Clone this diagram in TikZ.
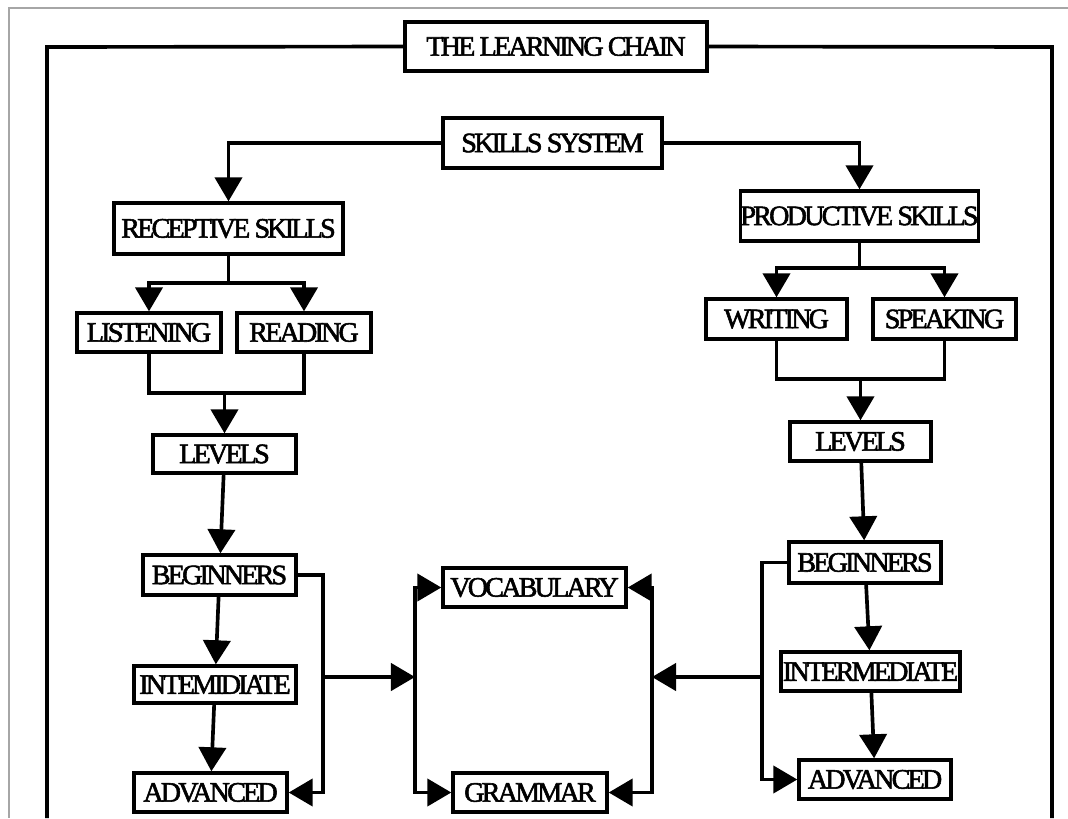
\documentclass[tikz,border=0pt]{standalone}
\usepackage{fontspec}
\setmainfont{Liberation Serif}[LetterSpace=-10,FakeBold=2]
\usetikzlibrary{arrows.meta}

\begin{document}
\begin{tikzpicture}[x=0.025cm,y=-0.025cm,
  box/.style={draw,line width=2.4pt,inner sep=0pt,font=\fontsize{20}{22}\selectfont},
  wire/.style={line width=2.6pt},
  arr/.style={wire,-{Triangle[width=0.68cm,length=0.6cm]}}]
  \useasboundingbox(0,0)rectangle(1068,818);
  \fill[white](0,0)rectangle(1068,818);
  \draw[gray!70,line width=0.8pt](1068,8)--(9,8)--(9,818);
  \node[box,minimum width=7.55cm,minimum height=1.225cm](title) at (556,46.5){THE LEARNING CHAIN};
  \draw[wire](title.west)--(47,47)--(47,818);
  \draw[wire](title.east)--(1052,47)--(1052,818);
  \node[box,minimum width=5.475cm,minimum height=1.25cm](skills) at (552.5,143){SKILLS SYSTEM};
  \node[box,minimum width=5.725cm,minimum height=1.275cm](recept) at (228.5,228.5){RECEPTIVE SKILLS};
  \node[box,minimum width=5.875cm,minimum height=1.25cm](product) at (859.5,216){PRODUCTIVE SKILLS};
  \draw[arr](skills.west)-|(recept.north);
  \draw[arr](skills.east)-|(product.north);
  \begin{scope}
    \node[box,minimum width=3.6cm,minimum height=0.975cm](listen) at (149,332.5){LISTENING};
    \node[box,minimum width=3.35cm,minimum height=0.975cm](read) at (304,332.5){READING};
    \node[box,minimum width=3.575cm,minimum height=0.95cm](levelsL) at (224.5,454){LEVELS};
    \node[box,minimum width=3.825cm,minimum height=1cm](begL) at (219.5,575){BEGINNERS};
    \node[box,minimum width=4.05cm,minimum height=0.925cm](intL) at (215,684.5){INTEMIDIATE};
    \node[box,minimum width=3.825cm,minimum height=0.975cm](advL) at (210.5,792.5){ADVANCED};
    \coordinate(rsplit) at (228.5,283);
    \coordinate(rjoin) at (224.5,393);
    \coordinate(lbar) at (323,677);
    \draw[wire](recept.south)--(rsplit);
    \draw[arr](rsplit)-|(listen.north);
    \draw[arr](rsplit)-|(read.north);
    \draw[wire](listen.south)|-(rjoin)-|(read.south);
    \draw[arr](rjoin)--(levelsL.north);
    \draw[arr](levelsL)--(begL);
    \draw[arr](begL)--(intL);
    \draw[arr](intL)--(advL);
    \draw[arr](begL.east)-|(lbar)|-(advL.east);
  \end{scope}
  \begin{scope}
    \node[box,minimum width=3.525cm,minimum height=1cm](write) at (776.5,319){WRITING};
    \node[box,minimum width=3.575cm,minimum height=1cm](speak) at (944.5,319){SPEAKING};
    \node[box,minimum width=3.525cm,minimum height=0.975cm](levelsR) at (860.5,441.5){LEVELS};
    \node[box,minimum width=3.8cm,minimum height=1.025cm](begR) at (865,562.5){BEGINNERS};
    \node[box,minimum width=4.475cm,minimum height=0.975cm](intR) at (870.5,671.5){INTERMEDIATE};
    \node[box,minimum width=3.8cm,minimum height=0.975cm](advR) at (875,779.5){ADVANCED};
    \coordinate(psplit) at (859.5,268);
    \coordinate(pjoin) at (860.5,379);
    \coordinate(rbar) at (762,677);
    \draw[wire](product.south)--(psplit);
    \draw[arr](psplit)-|(write.north);
    \draw[arr](psplit)-|(speak.north);
    \draw[wire](write.south)|-(pjoin)-|(speak.south);
    \draw[arr](pjoin)--(levelsR.north);
    \draw[arr](levelsR)--(begR);
    \draw[arr](begR)--(intR);
    \draw[arr](intR)--(advR);
    \draw[arr](begR.west)-|(rbar)|-(advR.west);
  \end{scope}
  \node[box,minimum width=4.575cm,minimum height=0.975cm](vocab) at (534.5,587.5){VOCABULARY};
  \node[box,minimum width=3.85cm,minimum height=0.975cm](gram) at (530,792.5){GRAMMAR};
  \coordinate(cl) at (415,677);
  \coordinate(cr) at (652,677);
  \draw[arr](lbar)--(cl);
  \draw[arr](rbar)--(cr);
  \draw[arr](cl)|-(vocab.west);
  \draw[arr](cl)|-(gram.west);
  \draw[arr](cr)|-(vocab.east);
  \draw[arr](cr)|-(gram.east);
\end{tikzpicture}
\end{document}
